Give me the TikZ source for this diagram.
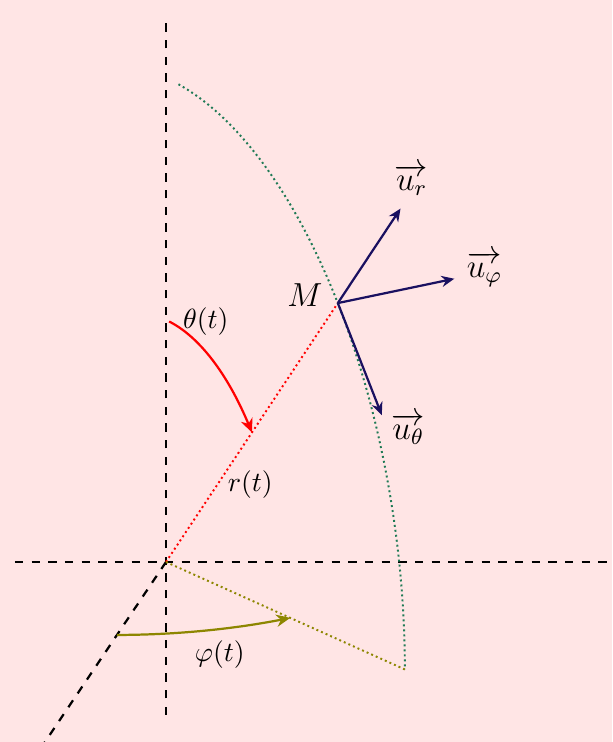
\documentclass[tikz,border=0pt]{standalone}
\usepackage{amsmath}
\usepackage{tikz}
\usetikzlibrary{arrows.meta}
\definecolor{BgPink}{rgb}{1,0.9,0.9}
\definecolor{VecBlue}{HTML}{1A1060}
\definecolor{MerGreen}{HTML}{1F7A55}

\begin{document}
\begin{tikzpicture}[
  x={(-33.95pt,-50.5pt)},y={(174.24pt,0pt)},z={(0pt,174.24pt)},
  axis/.style={thick,dashed,black},
  dotline/.style={line width=0.7pt,dash pattern=on 0.7pt off 1.1pt},
  vec/.style={-{Stealth[length=4.6pt,width=4pt,inset=1.5pt]},thick,color=VecBlue},
  ang/.style={-{Stealth[length=5pt,width=4.4pt,inset=1.6pt]},thick},
  veclab/.style={font=\large}]
\fill[BgPink] (-59.76pt,-64.8pt) rectangle (160.56pt,202.32pt);
\useasboundingbox (-59.76pt,-64.8pt) rectangle (160.56pt,202.32pt);
% points
\coordinate (O) at (0,0,0);
\coordinate (M) at ({sin(46)*cos(40)},{sin(46)*sin(40)},{cos(46)});
\coordinate (P) at ({cos(40)},{sin(40)},0);
\coordinate (Ur) at ({1.365*sin(46)*cos(40)},{1.365*sin(46)*sin(40)},{1.365*cos(46)});
\coordinate (Uth) at ({sin(46)*cos(40)+0.265*cos(46)*cos(40)},{sin(46)*sin(40)+0.265*cos(46)*sin(40)},{cos(46)-0.265*sin(46)});
\coordinate (Uph) at ({sin(46)*cos(40)-0.27*sin(40)},{sin(46)*sin(40)+0.27*cos(40)},{cos(46)});
\coordinate (zlo) at (0,0,-0.316);
\coordinate (zhi) at (0,0,1.126);
\coordinate (ylo) at (0,-0.312,0);
\coordinate (yhi) at (0,0.95,0);
\coordinate (xhi) at (1.35,0,0);
% axes
\draw[axis] (zlo) -- (zhi);
\draw[axis] (ylo) -- (yhi);
\draw[axis] (O) -- (xhi);
% dotted lines
\draw[dotline,red] (O) -- node[pos=0.3,right,text=black] (rl) {$r(t)$} (M);
\draw[dotline,olive] (O) -- (P);
\draw[dotline,MerGreen] plot[domain=3:90,smooth,samples=40,variable=\a]
  ({sin(\a)*cos(40)},{sin(\a)*sin(40)},{cos(\a)});
% angles
\draw[ang,red] plot[domain=1.5:46,smooth,samples=30,variable=\a]
  ({0.5*sin(\a)*cos(40)},{0.5*sin(\a)*sin(40)},{0.5*cos(\a)});
\node[right,xshift=1.5pt] (thl) at ({0.5*sin(1.5)*cos(40)},{0.5*sin(1.5)*sin(40)},{0.5*cos(1.5)}) {$\theta(t)$};
\draw[ang,olive] plot[domain=0:40,smooth,samples=20,variable=\a]
  ({0.52*cos(\a)},{0.52*sin(\a)},0);
\node[below,xshift=5pt] (phl) at ({0.52*cos(20)},{0.52*sin(20)},0) {$\varphi(t)$};
% base vectors
\draw[vec] (M) -- (Ur);
\draw[vec] (M) -- (Uph);
\draw[vec] (M) -- (Uth);
\node[veclab,left,xshift=-2pt,yshift=3pt] (Ml) at (M) {$M$};
\node[veclab,above,xshift=4pt,yshift=1pt] (url) at (Ur) {$\overrightarrow{u_r}$};
\node[veclab,right,xshift=1pt,yshift=3.5pt] (uphl) at (Uph) {$\overrightarrow{u_\varphi}$};
\node[veclab,right,xshift=0pt,yshift=-5pt] (uthl) at (Uth) {$\overrightarrow{u_\theta}$};
\end{tikzpicture}
\end{document}
